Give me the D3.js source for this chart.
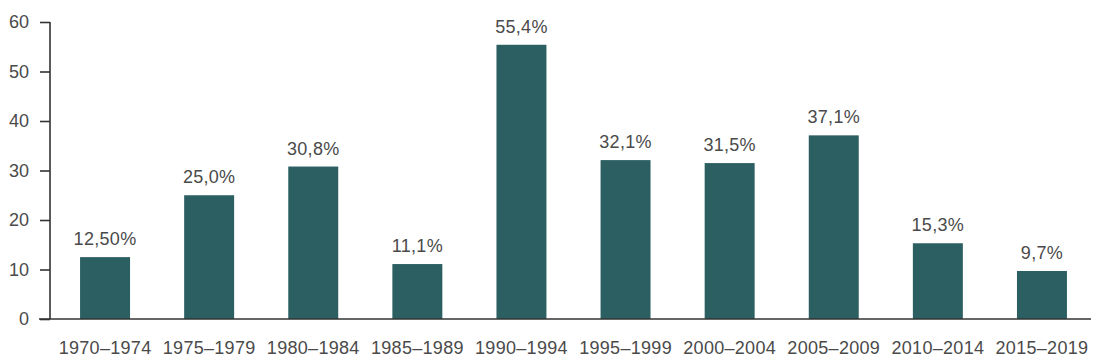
<!DOCTYPE html>
<html>
<head>
<meta charset="utf-8">
<script src="https://cdn.jsdelivr.net/npm/d3@7"></script>
<style>
  html, body { margin: 0; padding: 0; background: #fff; }
  svg { display: block; }
  text { font-family: "Liberation Sans", Arial, Helvetica, sans-serif; fill: #4a4a4a; }
</style>
</head>
<body>
<svg id="chart" width="1100" height="360"></svg>
<script>
const categories = ["1970–1974","1975–1979","1980–1984","1985–1989","1990–1994","1995–1999","2000–2004","2005–2009","2010–2014","2015–2019"];
const values = [12.5, 25.0, 30.8, 11.1, 55.4, 32.1, 31.5, 37.1, 15.3, 9.7];
const valueLabels = ["12,50%","25,0%","30,8%","11,1%","55,4%","32,1%","31,5%","37,1%","15,3%","9,7%"];
const yTicks = [0, 10, 20, 30, 40, 50, 60];

const svg = d3.select("#chart");
const x0 = 50, x1 = 1094, yTop = 22, yBottom = 319;

const x = d3.scaleBand().domain(categories).range([53, x1]).paddingInner(0.52).paddingOuter(0.26);
const y = d3.scaleLinear().domain([0, 60]).range([yBottom, yTop]);

// bars
svg.append("g").selectAll("rect").data(values).join("rect")
  .attr("x", (d, i) => x(categories[i]))
  .attr("y", d => y(d))
  .attr("width", x.bandwidth())
  .attr("height", d => y(0) - y(d))
  .attr("fill", "#2b5f61");

// value labels
svg.append("g").selectAll("text").data(values).join("text")
  .attr("x", (d, i) => x(categories[i]) + x.bandwidth() / 2)
  .attr("y", d => y(d) - 12)
  .attr("text-anchor", "middle")
  .style("font-size", "18px")
  .style("letter-spacing", "0.3px")
  .text((d, i) => valueLabels[i]);

// y axis
const yAxis = d3.axisLeft(y).tickValues(yTicks).tickSize(10).tickPadding(11).tickFormat(d3.format("d"));
const gy = svg.append("g").attr("transform", `translate(${x0},0)`).call(yAxis);
gy.select(".domain").remove();
gy.selectAll(".tick line").attr("stroke", "#333").attr("stroke-width", 1.6);
gy.selectAll(".tick text").style("font-size", "18px").attr("fill", "#4a4a4a").style("font-family", "Liberation Sans, Arial, sans-serif");
svg.append("line").attr("x1", x0).attr("x2", x0).attr("y1", yTop).attr("y2", yBottom)
  .attr("stroke", "#333").attr("stroke-width", 1.6);

// x axis
const xAxis = d3.axisBottom(x).tickSize(0).tickPadding(22);
const gx = svg.append("g").attr("transform", `translate(0,${yBottom})`).call(xAxis);
gx.select(".domain").remove();
gx.selectAll(".tick text").style("font-size", "18px").style("letter-spacing", "0.3px").attr("fill", "#4a4a4a").style("font-family", "Liberation Sans, Arial, sans-serif");
svg.append("line").attr("x1", 39).attr("x2", 1091).attr("y1", yBottom).attr("y2", yBottom)
  .attr("stroke", "#333").attr("stroke-width", 1.6);
</script>
</body>
</html>
